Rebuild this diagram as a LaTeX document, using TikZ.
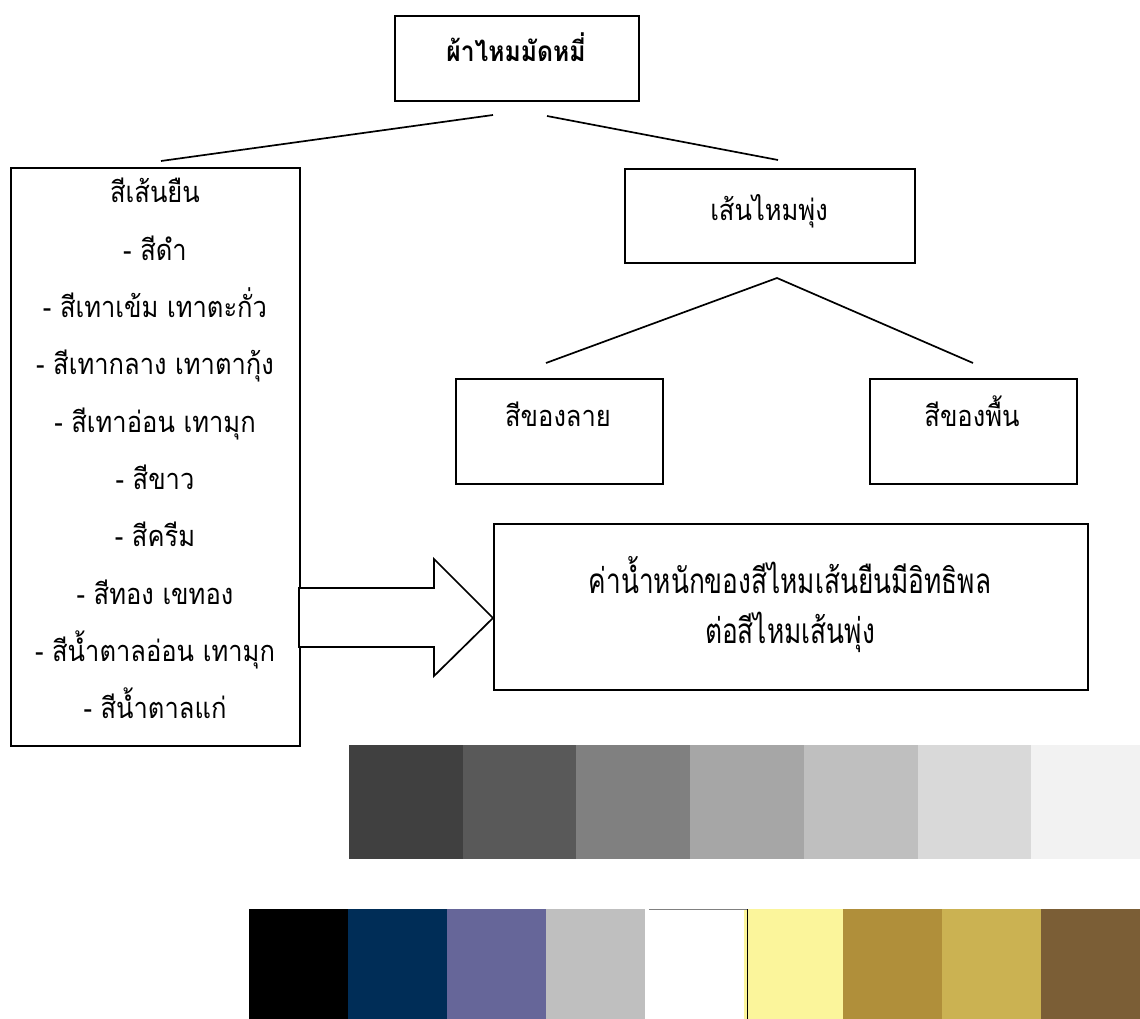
\documentclass[tikz,border=0pt]{standalone}
\usepackage{fontspec}
\newfontfamily\thaifont[Script=Thai, FakeStretch=0.88]{Loma}
\newfontfamily\condfont[Script=Thai, FakeStretch=0.75]{Loma}
\tikzset{
  boxnode/.style={draw=black, line width=1.7pt, minimum width=#1, inner sep=0pt, anchor=north west},
  txt/.style={font=\thaifont\fontsize{29}{32}\selectfont, anchor=base, inner sep=0pt},
  condtxt/.style={font=\condfont\fontsize{35}{38}\selectfont, anchor=base, inner sep=0pt},
  conn/.style={draw=black, line width=1.7pt},
}
\definecolor{g1}{HTML}{404040}
\definecolor{g2}{HTML}{595959}
\definecolor{g3}{HTML}{808080}
\definecolor{g4}{HTML}{A6A6A6}
\definecolor{g5}{HTML}{BFBFBF}
\definecolor{g6}{HTML}{D9D9D9}
\definecolor{g7}{HTML}{F2F2F2}
\definecolor{k1}{HTML}{000000}
\definecolor{k2}{HTML}{002D57}
\definecolor{k3}{HTML}{666699}
\definecolor{k4}{HTML}{BFBFBF}
\definecolor{k5}{HTML}{FFFFFF}
\definecolor{k6}{HTML}{FBF59B}
\definecolor{k7}{HTML}{B08F3A}
\definecolor{k8}{HTML}{CBB252}
\definecolor{k9}{HTML}{7B5E36}
\begin{document}
\begin{tikzpicture}[x=1pt,y=-1pt]
\useasboundingbox[fill=white] (0,0) rectangle (1140,1019);

% boxes
\node[boxnode=244pt, minimum height=85pt] (top) at (394,15) {};
\node[boxnode=289pt, minimum height=578pt] (warp) at (10,167) {};
\node[boxnode=290pt, minimum height=94pt] (weft) at (624,168) {};
\node[boxnode=207pt, minimum height=105pt] (pat) at (455,378) {};
\node[boxnode=207pt, minimum height=105pt] (bg) at (869,378) {};
\node[boxnode=594pt, minimum height=166pt] (res) at (493,523) {};

% texts
\node[txt, font=\thaifont\bfseries\fontsize{28}{30}\selectfont] (toptxt) at (516,62) {ผ้าไหมมัดหมี่};
\node[txt] (wefttxt) at (769,220) {เส้นไหมพุ่ง};
\node[txt] (pattxt) at (558,426) {สีของลาย};
\node[txt] (bgtxt) at (972,426) {สีของพื้น};
\node[condtxt] (res1) at (790,593) {ค่าน้ำหนักของสีไหมเส้นยืนมีอิทธิพล};
\node[condtxt] (res2) at (790,643) {ต่อสีไหมเส้นพุ่ง};

\foreach \t [count=\i] in {สีเส้นยืน, - สีดำ, - สีเทาเข้ม เทาตะกั่ว, - สีเทากลาง เทาตากุ้ง, - สีเทาอ่อน เทามุก, - สีขาว, - สีครีม, - สีทอง เขทอง, - สีน้ำตาลอ่อน เทามุก, - สีน้ำตาลแก่}
  \node[txt] (w\i) at (155,{203+57.3*(\i-1)}) {\t};

% connectors
\coordinate (a1) at (161,161);
\coordinate (a2) at (493,115);
\coordinate (b1) at (547,116);
\coordinate (b2) at (778,160);
\coordinate (apex) at (777,278);
\coordinate (cl) at (546,363);
\coordinate (cr) at (973,363);
\draw[conn] (a1) -- (a2);
\draw[conn] (b1) -- (b2);
\draw[conn] (cl) -- (apex) -- (cr);

% block arrow
\draw[fill=white, line width=1.7pt, line join=miter] (299,588) -- (434,588) -- (434,559) -- (493,618) -- (434,676) -- (434,647) -- (299,647) -- cycle;

% grey scale bar
\foreach \c [count=\i] in {g1,g2,g3,g4,g5,g6,g7}
  \fill[\c] ({349+(\i-1)*113.7},745) rectangle ({349+\i*113.7},859);

% colour bar
\foreach \c [count=\i] in {k1,k2,k3,k4,k5,k6,k7,k8,k9}
  \fill[\c] ({248.6+(\i-1)*99.04},909) rectangle ({248.6+\i*99.04},1019);
\draw[gray, line width=1pt] (648.8,909) -- (747.8,909);
\draw[black, line width=1pt] (747.8,909) -- (747.8,1019);
\end{tikzpicture}
\end{document}
